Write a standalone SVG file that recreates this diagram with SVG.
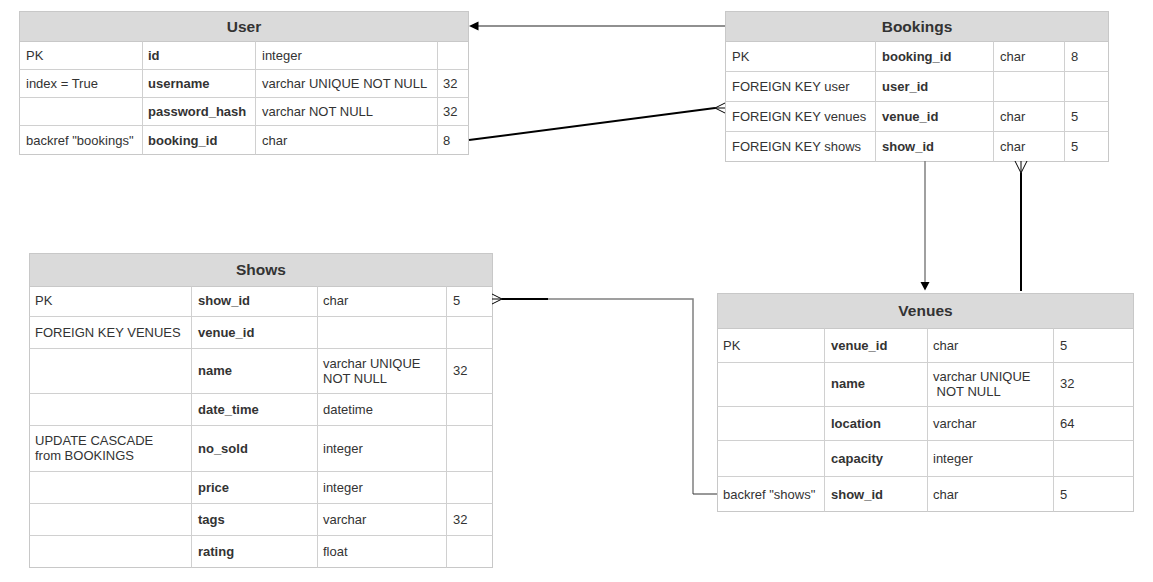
<svg xmlns="http://www.w3.org/2000/svg" width="1153" height="582" viewBox="0 0 1153 582">
<style>
.tbl{fill:#ffffff;stroke:#c8c8c8;stroke-width:1}
.hdr{fill:#dadada;stroke:#c8c8c8;stroke-width:1}
.ln{stroke:#d0d0d0;stroke-width:1;fill:none}
.t{font-family:"Liberation Sans",Arial,sans-serif;font-size:13px;fill:#333333}
.b{font-family:"Liberation Sans",Arial,sans-serif;font-size:13px;font-weight:bold;fill:#333333}
.h{font-family:"Liberation Sans",Arial,sans-serif;font-size:15.5px;font-weight:bold;fill:#333333;text-anchor:middle}
.blk{stroke:#000000;fill:none}
.gry{stroke:#808080;fill:none}
</style>
<rect width="1153" height="582" fill="#ffffff"/>

<g id="user">
<rect class="tbl" x="19.5" y="11.5" width="449" height="143"/>
<rect class="hdr" x="19.5" y="11.5" width="449" height="30"/>
<path class="ln" d="M19.5,69.5H468.5M19.5,97.5H468.5M19.5,125.5H468.5M142.5,41.5V154.5M255.5,41.5V154.5M437.5,41.5V154.5"/>
<text class="h" x="244" y="31.5">User</text>
<text class="t" x="26" y="59.5">PK</text>
<text class="b" x="148" y="59.5">id</text>
<text class="t" x="262" y="59.5">integer</text>
<text class="t" x="26" y="87.5">index = True</text>
<text class="b" x="148" y="87.5">username</text>
<text class="t" x="262" y="87.5">varchar UNIQUE NOT NULL</text>
<text class="t" x="443" y="87.5">32</text>
<text class="b" x="148" y="115.5">password_hash</text>
<text class="t" x="262" y="115.5">varchar NOT NULL</text>
<text class="t" x="443" y="115.5">32</text>
<text class="t" x="26" y="144.5">backref "bookings"</text>
<text class="b" x="148" y="144.5">booking_id</text>
<text class="t" x="262" y="144.5">char</text>
<text class="t" x="443" y="144.5">8</text>
</g>

<g id="bookings">
<rect class="tbl" x="725.5" y="11.5" width="383" height="150"/>
<rect class="hdr" x="725.5" y="11.5" width="383" height="30"/>
<path class="ln" d="M725.5,71.5H1108.5M725.5,101.5H1108.5M725.5,131.5H1108.5M875.5,41.5V161.5M993.5,41.5V161.5M1064.5,41.5V161.5"/>
<text class="h" x="917" y="31.5">Bookings</text>
<text class="t" x="732" y="60.5">PK</text>
<text class="b" x="882" y="60.5">booking_id</text>
<text class="t" x="1000" y="60.5">char</text>
<text class="t" x="1071" y="60.5">8</text>
<text class="t" x="732" y="90.5">FOREIGN KEY user</text>
<text class="b" x="882" y="90.5">user_id</text>
<text class="t" x="732" y="120.5">FOREIGN KEY venues</text>
<text class="b" x="882" y="120.5">venue_id</text>
<text class="t" x="1000" y="120.5">char</text>
<text class="t" x="1071" y="120.5">5</text>
<text class="t" x="732" y="150.5">FOREIGN KEY shows</text>
<text class="b" x="882" y="150.5">show_id</text>
<text class="t" x="1000" y="150.5">char</text>
<text class="t" x="1071" y="150.5">5</text>
</g>

<g id="shows">
<rect class="tbl" x="29.5" y="253.5" width="463" height="314"/>
<rect class="hdr" x="29.5" y="253.5" width="463" height="33"/>
<path class="ln" d="M29.5,316.5H492.5M29.5,348.5H492.5M29.5,393.5H492.5M29.5,425.5H492.5M29.5,471.5H492.5M29.5,503.5H492.5M29.5,535.5H492.5M191.5,286.5V567.5M317.5,286.5V567.5M446.5,286.5V567.5"/>
<text class="h" x="261" y="275">Shows</text>
<text class="t" x="35" y="305">PK</text>
<text class="b" x="198" y="305">show_id</text>
<text class="t" x="323" y="305">char</text>
<text class="t" x="453" y="305">5</text>
<text class="t" x="35" y="336.5">FOREIGN KEY VENUES</text>
<text class="b" x="198" y="336.5">venue_id</text>
<text class="b" x="198" y="375">name</text>
<text class="t" x="323" y="367.5">varchar UNIQUE</text>
<text class="t" x="323" y="382.5">NOT NULL</text>
<text class="t" x="453" y="375">32</text>
<text class="b" x="198" y="413.5">date_time</text>
<text class="t" x="323" y="413.5">datetime</text>
<text class="t" x="35" y="444.5">UPDATE CASCADE</text>
<text class="t" x="35" y="459.5">from BOOKINGS</text>
<text class="b" x="198" y="452.5">no_sold</text>
<text class="t" x="323" y="452.5">integer</text>
<text class="b" x="198" y="491.5">price</text>
<text class="t" x="323" y="491.5">integer</text>
<text class="b" x="198" y="523.5">tags</text>
<text class="t" x="323" y="523.5">varchar</text>
<text class="t" x="453" y="523.5">32</text>
<text class="b" x="198" y="556">rating</text>
<text class="t" x="323" y="556">float</text>
</g>

<g id="venues">
<rect class="tbl" x="717.5" y="293.5" width="416" height="218"/>
<rect class="hdr" x="717.5" y="293.5" width="416" height="35"/>
<path class="ln" d="M717.5,362.5H1133.5M717.5,406.5H1133.5M717.5,440.5H1133.5M717.5,476.5H1133.5M824.5,328.5V511.5M927.5,328.5V511.5M1053.5,328.5V511.5"/>
<text class="h" x="925.5" y="316">Venues</text>
<text class="t" x="723" y="349.5">PK</text>
<text class="b" x="831" y="349.5">venue_id</text>
<text class="t" x="933" y="349.5">char</text>
<text class="t" x="1060" y="349.5">5</text>
<text class="b" x="831" y="388">name</text>
<text class="t" x="933" y="381">varchar UNIQUE</text>
<text class="t" x="933" y="395.5" xml:space="preserve"> NOT NULL</text>
<text class="t" x="1060" y="388">32</text>
<text class="b" x="831" y="427.5">location</text>
<text class="t" x="933" y="427.5">varchar</text>
<text class="t" x="1060" y="427.5">64</text>
<text class="b" x="831" y="462.5">capacity</text>
<text class="t" x="933" y="462.5">integer</text>
<text class="t" x="723" y="498.5">backref "shows"</text>
<text class="b" x="831" y="498.5">show_id</text>
<text class="t" x="933" y="498.5">char</text>
<text class="t" x="1060" y="498.5">5</text>
</g>

<g id="connectors">
<!-- Bookings -> User -->
<line x1="725" y1="26" x2="477" y2="26" stroke="#222222" stroke-width="1.2"/>
<polygon points="469,26 478.5,21.5 478.5,30.5" fill="#000000"/>
<!-- User.booking_id -> Bookings (many) -->
<line class="blk" x1="469" y1="140" x2="715" y2="108" stroke-width="2"/>
<path class="blk" d="M725,103 L715,108 L725,113 M715,108 L725,108" stroke-width="1"/>
<!-- Bookings.show_id -> Venues -->
<line class="gry" x1="925" y1="161" x2="925" y2="283" stroke-width="1.5"/>
<polygon points="925,290.5 920.5,282 929.5,282" fill="#000000"/>
<!-- Venues -> Bookings (many) -->
<line class="blk" x1="1021" y1="173" x2="1021" y2="291" stroke-width="2"/>
<path class="blk" d="M1015,161 L1021,173 L1027,161 M1021,161 L1021,173" stroke-width="1"/>
<!-- Venues.show_id -> Shows (many) -->
<path class="blk" d="M492,294 L502,299 L492,304 M492,299 L502,299" stroke-width="1"/>
<line class="blk" x1="502" y1="299" x2="548" y2="299" stroke-width="2"/>
<path class="gry" d="M548,299 H693 V494" stroke-width="1.5"/>
<line x1="693" y1="494" x2="717" y2="494" stroke="#333333" stroke-width="1"/>
</g>
</svg>
